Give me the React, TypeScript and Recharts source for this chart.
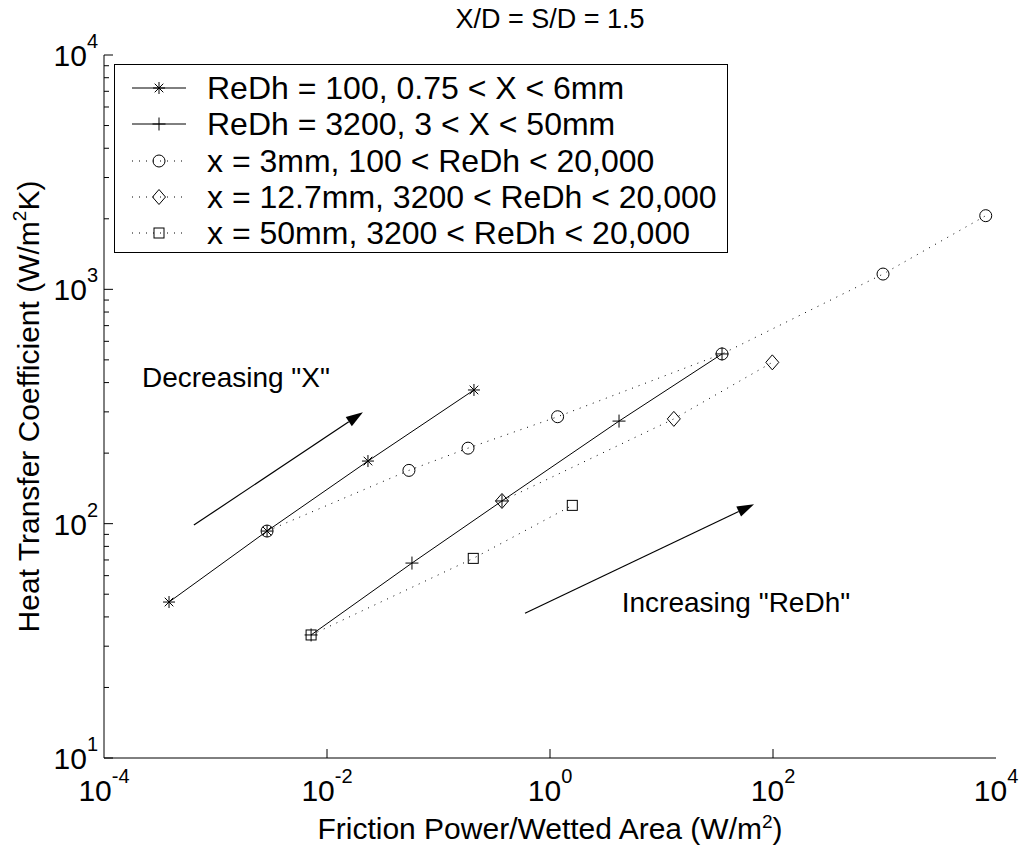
import { ScatterChart, Scatter, XAxis, YAxis, Legend, ReferenceLine, ReferenceDot } from "recharts";

const FONT = '"Liberation Sans", Arial, Helvetica, sans-serif';

// ReDh = 100, 0.75 < X < 6mm
const starX = [3.83e-4, 2.9e-3, 0.0233, 0.208];
const starY = [46.3, 93, 185, 372];
// ReDh = 3200, 3 < X < 50mm
const plusX = [7.2e-3, 0.0578, 0.371, 4.16, 34.9];
const plusY = [33.5, 67.9, 125, 274, 530];
// x = 3mm
const circleX = [2.9e-3, 0.0543, 0.184, 1.17, 34.9, 970, 8090];
const circleY = [93, 168.8, 210, 286, 530, 1162, 2062];
// x = 12.7mm
const diamondX = [0.371, 12.9, 98.6];
const diamondY = [125, 280, 488];
// x = 50mm
const squareX = [7.2e-3, 0.205, 1.585];
const squareY = [33.5, 71.1, 119.7];

const xTicks = [1e-4, 1e-2, 1, 1e2, 1e4];
const yMajor = [10, 100, 1000, 10000];
const yTicks = [
  10, 20, 30, 40, 50, 60, 70, 80, 90,
  100, 200, 300, 400, 500, 600, 700, 800, 900,
  1000, 2000, 3000, 4000, 5000, 6000, 7000, 8000, 9000, 10000,
];

type Kind = "star" | "plus" | "circle" | "diamond" | "square";

const series: { name: string; kind: Kind; dotted: boolean; xs: number[]; ys: number[] }[] = [
  { name: "ReDh = 100, 0.75 < X < 6mm", kind: "star", dotted: false, xs: starX, ys: starY },
  { name: "ReDh = 3200, 3 < X < 50mm", kind: "plus", dotted: false, xs: plusX, ys: plusY },
  { name: "x = 3mm, 100 < ReDh < 20,000", kind: "circle", dotted: true, xs: circleX, ys: circleY },
  { name: "x = 12.7mm, 3200 < ReDh < 20,000", kind: "diamond", dotted: true, xs: diamondX, ys: diamondY },
  { name: "x = 50mm, 3200 < ReDh < 20,000", kind: "square", dotted: true, xs: squareX, ys: squareY },
];

function Marker({ kind, cx, cy }: { kind: Kind; cx: number; cy: number }) {
  const st = { stroke: "#000", strokeWidth: 1, fill: "none" };
  if (kind === "star") {
    const r = 6, d = 4.3;
    return (
      <g {...st}>
        <line x1={cx - r} x2={cx + r} y1={cy} y2={cy} />
        <line x1={cx} x2={cx} y1={cy - r} y2={cy + r} />
        <line x1={cx - d} x2={cx + d} y1={cy - d} y2={cy + d} />
        <line x1={cx - d} x2={cx + d} y1={cy + d} y2={cy - d} />
      </g>
    );
  }
  if (kind === "plus") {
    const r = 6.5;
    return (
      <g {...st}>
        <line x1={cx - r} x2={cx + r} y1={cy} y2={cy} />
        <line x1={cx} x2={cx} y1={cy - r} y2={cy + r} />
      </g>
    );
  }
  if (kind === "circle") return <circle cx={cx} cy={cy} r={6} {...st} />;
  if (kind === "diamond")
    return <polygon points={`${cx},${cy - 7.5} ${cx + 6.5},${cy} ${cx},${cy + 7.5} ${cx - 6.5},${cy}`} {...st} />;
  return <rect x={cx - 5} y={cy - 5} width={10} height={10} {...st} />;
}

const exp = (v: number) => Math.round(Math.log10(v));

const BottomTick = (p: any) => {
  const v = p.payload.value;
  const inner = v > 1e-4 && v < 1e4;
  return (
    <g>
      {inner && <line x1={p.x} x2={p.x} y1={p.y} y2={p.y - 9} stroke="#000" />}
      <text x={p.x} y={p.y + 43} textAnchor="middle" fontSize={30} fontFamily={FONT} fill="#000">
        10<tspan dy={-18} fontSize={20}>{exp(v)}</tspan>
      </text>
    </g>
  );
};

const TopTick = (p: any) => {
  const v = p.payload.value;
  if (!(v > 1e-4 && v < 1e4)) return <g />;
  return <line x1={p.x} x2={p.x} y1={p.y} y2={p.y + 9} stroke="#000" />;
};

const LeftTick = (p: any) => {
  const v = p.payload.value;
  const major = yMajor.includes(v);
  return (
    <g>
      <line x1={p.x} x2={p.x + (major ? 9 : 5)} y1={p.y} y2={p.y} stroke="#000" />
      {major && (
        <text x={p.x - 6} y={p.y + 11} textAnchor="end" fontSize={30} fontFamily={FONT} fill="#000">
          10<tspan dy={-18} fontSize={20}>{exp(v)}</tspan>
        </text>
      )}
    </g>
  );
};

const RightTick = (p: any) => {
  const major = yMajor.includes(p.payload.value);
  return <line x1={p.x} x2={p.x - (major ? 9 : 5)} y1={p.y} y2={p.y} stroke="#000" />;
};

const ArrowLine = (p: any) => {
  const { x1, y1, x2, y2 } = p;
  const a = Math.atan2(y2 - y1, x2 - x1);
  const L = 17, W = 5.5;
  const bx = x2 - L * Math.cos(a), by = y2 - L * Math.sin(a);
  const px = -Math.sin(a) * W, py = Math.cos(a) * W;
  return (
    <g>
      <line x1={x1} y1={y1} x2={bx} y2={by} stroke="#000" strokeWidth={1.2} />
      <polygon points={`${x2},${y2} ${bx + px},${by + py} ${bx - px},${by - py}`} fill="#000" />
    </g>
  );
};

const noteText = (txt: string) => (p: any) => (
  <text x={p.cx} y={p.cy} fontSize={28} fontFamily={FONT} fill="#000">{txt}</text>
);

const LegendBox = () => (
  <div
    style={{
      width: 614,
      height: 189,
      border: "1.5px solid #000",
      background: "#fff",
      fontFamily: FONT,
      fontSize: 32,
      paddingTop: 5,
      boxSizing: "border-box",
      color: "#000",
    }}
  >
    {series.map((s) => (
      <div key={s.name} style={{ height: 36.3, display: "flex", alignItems: "center" }}>
        <svg width={92} height={36} style={{ flex: "none" }}>
          <line x1={17} x2={71} y1={18} y2={18} stroke="#000" strokeWidth={1} strokeDasharray={s.dotted ? "1 6" : undefined} />
          <Marker kind={s.kind} cx={44} cy={18} />
        </svg>
        <span style={{ whiteSpace: "nowrap", lineHeight: "36px" }}>{s.name}</span>
      </div>
    ))}
  </div>
);

export default function App() {
  return (
    <div style={{ position: "absolute", left: 0, top: 0, width: 1022, height: 854, background: "#fff" }}>
      <svg width={1022} height={50} style={{ position: "absolute", left: 0, top: 0 }}>
        <text x={550} y={28} textAnchor="middle" fontSize={27} fontFamily={FONT} fill="#000">
          X/D = S/D = 1.5
        </text>
      </svg>
      <ScatterChart width={1022} height={854} margin={{ top: 55, right: 26, bottom: 36, left: 44 }}>
        <XAxis
          dataKey="x"
          type="number"
          scale="log"
          domain={[1e-4, 1e4]}
          allowDataOverflow
          ticks={xTicks}
          interval={0}
          tickSize={0}
          tickMargin={0}
          tickLine={false}
          height={60}
          axisLine={{ stroke: "#000" }}
          tick={BottomTick}
          label={{
            content: (p: any) => {
              const vb = p.viewBox || { x: 104, y: 758, width: 892 };
              return (
                <text x={vb.x + vb.width / 2} y={vb.y + 81} textAnchor="middle" fontSize={30} fontFamily={FONT} fill="#000">
                  Friction Power/Wetted Area (W/m<tspan dy={-11} fontSize={19}>2</tspan><tspan dy={11}>)</tspan>
                </text>
              );
            },
          }}
        />
        <XAxis
          xAxisId="top"
          orientation="top"
          type="number"
          scale="log"
          domain={[1e-4, 1e4]}
          allowDataOverflow
          ticks={xTicks}
          interval={0}
          tickSize={0}
          tickMargin={0}
          tickLine={false}
          height={0}
          axisLine={{ stroke: "#000" }}
          tick={TopTick}
        />
        <YAxis
          dataKey="y"
          type="number"
          scale="log"
          domain={[10, 10000]}
          allowDataOverflow
          ticks={yTicks}
          interval={0}
          tickSize={0}
          tickMargin={0}
          tickLine={false}
          width={60}
          axisLine={{ stroke: "#000" }}
          tick={LeftTick}
          label={{
            content: (p: any) => {
              const vb = p.viewBox || { x: 44, y: 55, height: 703 };
              const cx = 39, cy = vb.y + vb.height / 2;
              return (
                <text x={cx} y={cy} transform={`rotate(-90 ${cx} ${cy})`} textAnchor="middle" fontSize={30} fontFamily={FONT} fill="#000">
                  Heat Transfer Coefficient (W/m<tspan dy={-13} fontSize={19}>2</tspan><tspan dy={13}>K)</tspan>
                </text>
              );
            },
          }}
        />
        <YAxis
          yAxisId="right"
          orientation="right"
          type="number"
          scale="log"
          domain={[10, 10000]}
          allowDataOverflow
          ticks={yTicks}
          interval={0}
          tickSize={0}
          tickMargin={0}
          tickLine={false}
          width={0}
          axisLine={{ stroke: "#000" }}
          tick={RightTick}
        />
        <Legend
          layout="vertical"
          align="center"
          verticalAlign="middle"
          wrapperStyle={{ position: "absolute", left: 114, top: 64, width: 614, height: 189 }}
          content={() => <LegendBox />}
        />
        <ReferenceLine
          segment={[{ x: 6.4e-4, y: 98.6 }, { x: 0.021, y: 299 }]}
          ifOverflow="visible"
          shape={ArrowLine}
        />
        <ReferenceLine
          segment={[{ x: 0.597, y: 41.5 }, { x: 67.6, y: 121 }]}
          ifOverflow="visible"
          shape={ArrowLine}
        />
        <ReferenceDot x={2.19e-4} y={383} r={0} ifOverflow="visible" shape={noteText('Decreasing "X"')} />
        <ReferenceDot x={4.4} y={42} r={0} ifOverflow="visible" shape={noteText('Increasing "ReDh"')} />
        {series.map((s) => (
          <Scatter
            key={s.name}
            name={s.name}
            data={s.xs.map((x, i) => ({ x, y: s.ys[i] }))}
            line={{ stroke: "#000", strokeWidth: 1, strokeDasharray: s.dotted ? "1 6" : undefined }}
            lineType="joint"
            shape={(p: any) => <Marker kind={s.kind} cx={p.cx} cy={p.cy} />}
            isAnimationActive={false}
          />
        ))}
      </ScatterChart>
    </div>
  );
}
